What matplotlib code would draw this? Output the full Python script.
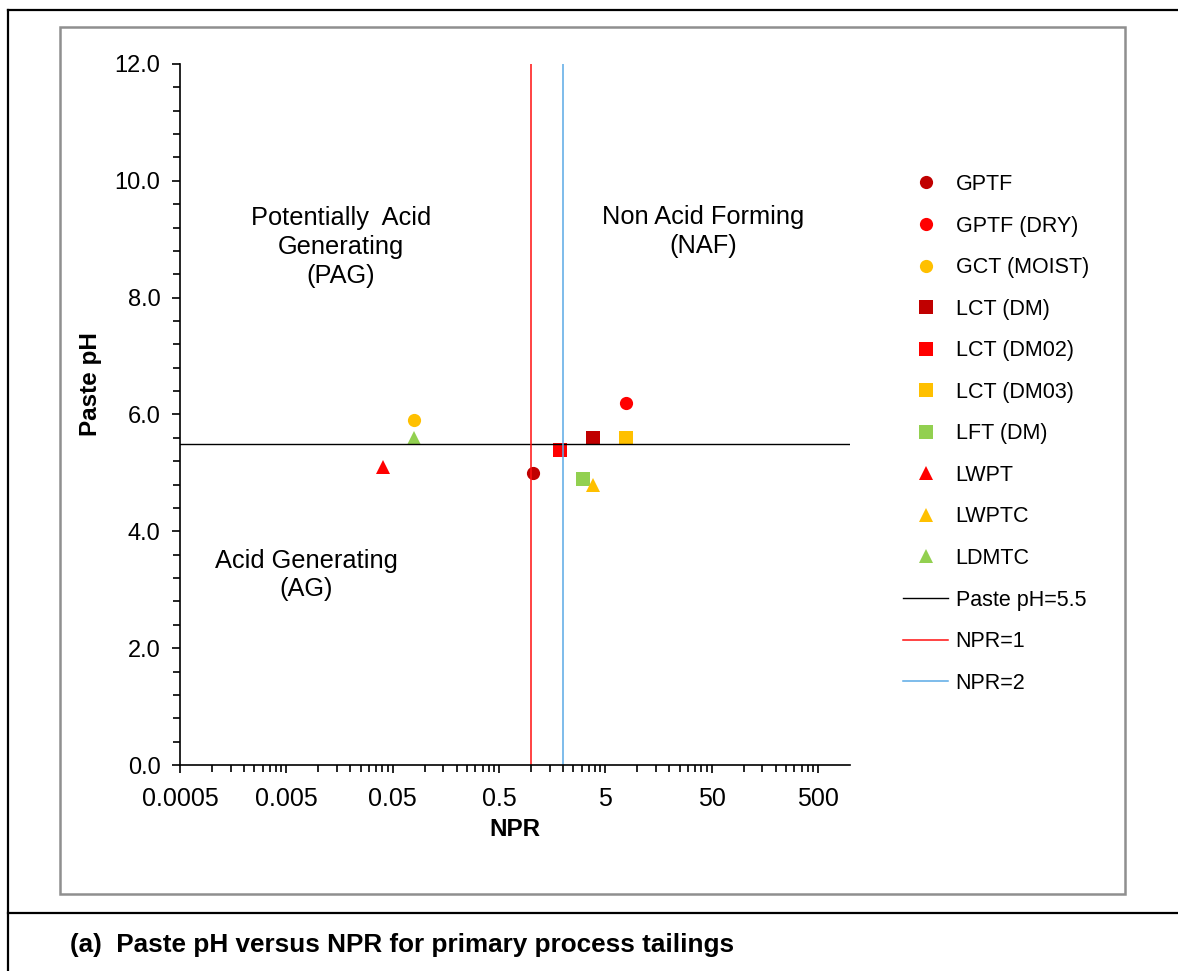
import numpy as np
import matplotlib
matplotlib.use('Agg')
import matplotlib.pyplot as plt
from matplotlib.ticker import FixedLocator, MultipleLocator, NullFormatter
from matplotlib.lines import Line2D
from matplotlib.patches import Rectangle

plt.rcParams['font.family'] = ['Liberation Sans', 'DejaVu Sans']

# data
names = ['GPTF', 'GPTF (DRY)', 'GCT (MOIST)', 'LCT (DM)', 'LCT (DM02)',
         'LCT (DM03)', 'LFT (DM)', 'LWPT', 'LWPTC', 'LDMTC']
npr = [1.05, 7.85, 0.079, 3.84, 1.88, 7.85, 3.09, 0.0406, 3.84, 0.079]
paste_ph = [5.0, 6.2, 5.9, 5.6, 5.4, 5.6, 4.9, 5.1, 4.8, 5.6]
markers = ['o', 'o', 'o', 's', 's', 's', 's', '^', '^', '^']
colors = ['#C00000', '#FF0000', '#FFC000', '#C00000', '#FF0000',
          '#FFC000', '#92D050', '#FF0000', '#FFC000', '#92D050']

ph_limit = 5.5
npr_lines = [1, 2]
npr_colors = ['#FF1010', '#5AAAE6']
x_ticks = [0.0005, 0.005, 0.05, 0.5, 5, 50, 500]
x_ticklabels = ['0.0005', '0.005', '0.05', '0.5', '5', '50', '500']

fig = plt.figure(figsize=(11.78, 9.71), dpi=100)
ax = fig.add_axes([180/1178, 1-765/971, 670/1178, 701/971])

for n, x, y, m, c in zip(names, npr, paste_ph, markers, colors):
    ax.plot([x], [y], linestyle='none', marker=m, color=c, markersize=9.5,
            markeredgewidth=0, label=n)

ax.plot([0.0005, 1000], [ph_limit, ph_limit], color='black', lw=1.0,
        label='Paste pH=5.5')
for v, c in zip(npr_lines, npr_colors):
    ax.plot([v, v], [0, 12], color=c, lw=1.1, label='NPR=%d' % v)

ax.set_xscale('log')
ax.set_xlim(0.0005, 1000)
ax.set_ylim(0, 12)
ax.xaxis.set_major_locator(FixedLocator(x_ticks))
ax.set_xticklabels(x_ticklabels)
minor = [t * k for t in x_ticks for k in range(2, 10) if t * k < 1000]
ax.xaxis.set_minor_locator(FixedLocator(minor))
ax.xaxis.set_minor_formatter(NullFormatter())
ax.set_yticks(np.arange(0, 12.1, 2))
ax.set_yticklabels(['%.1f' % v for v in np.arange(0, 12.1, 2)])
ax.yaxis.set_minor_locator(MultipleLocator(0.4))

for s in ['top', 'right']:
    ax.spines[s].set_visible(False)
for s in ['left', 'bottom']:
    ax.spines[s].set_linewidth(1.2)
ax.tick_params(which='major', direction='out', length=6, width=1.2)
ax.tick_params(which='minor', direction='out', length=5, width=1.2)
ax.tick_params(axis='x', which='major', labelsize=18, pad=10)
ax.tick_params(axis='y', which='major', labelsize=17, pad=8)

ax.set_xlabel('NPR', fontsize=17.5, fontweight='bold', labelpad=5)
ax.set_ylabel('Paste pH', fontsize=17.5, fontweight='bold')
ax.yaxis.set_label_coords(-0.117, 0.543)

ax.text(0.240, 0.739, 'Potentially  Acid\nGenerating\n(PAG)', transform=ax.transAxes,
        ha='center', va='center', fontsize=18.3, linespacing=1.25)
ax.text(0.781, 0.761, 'Non Acid Forming\n(NAF)', transform=ax.transAxes,
        ha='center', va='center', fontsize=18.3, linespacing=1.25)
ax.text(0.188, 0.271, 'Acid Generating\n(AG)', transform=ax.transAxes,
        ha='center', va='center', fontsize=18.3, linespacing=1.25)

fig.legend(loc='upper left', bbox_to_anchor=(903/1178, 1-174/971),
           frameon=False, fontsize=15.5, handlelength=2.1, handletextpad=0.35,
           labelspacing=0.955, borderpad=0, borderaxespad=0)

# frames
fig.patches.append(Rectangle((60/1178, 1-894/971), 1065/1178, 867/971,
                             transform=fig.transFigure, fill=False,
                             edgecolor='#8f8f8f', lw=1.8))
fig.lines.append(Line2D([8/1178, 8/1178], [0, 1-10/971], transform=fig.transFigure,
                        color='black', lw=1.6))
fig.lines.append(Line2D([8/1178, 1], [1-10/971, 1-10/971], transform=fig.transFigure,
                        color='black', lw=1.6))
fig.lines.append(Line2D([8/1178, 1], [1-913/971, 1-913/971], transform=fig.transFigure,
                        color='black', lw=1.6))

fig.text(70/1178, 1-945/971, '(a)  Paste pH versus NPR for primary process tailings',
         fontsize=18.8, fontweight='bold', va='center', ha='left')

fig.savefig('out.png', dpi=100)
